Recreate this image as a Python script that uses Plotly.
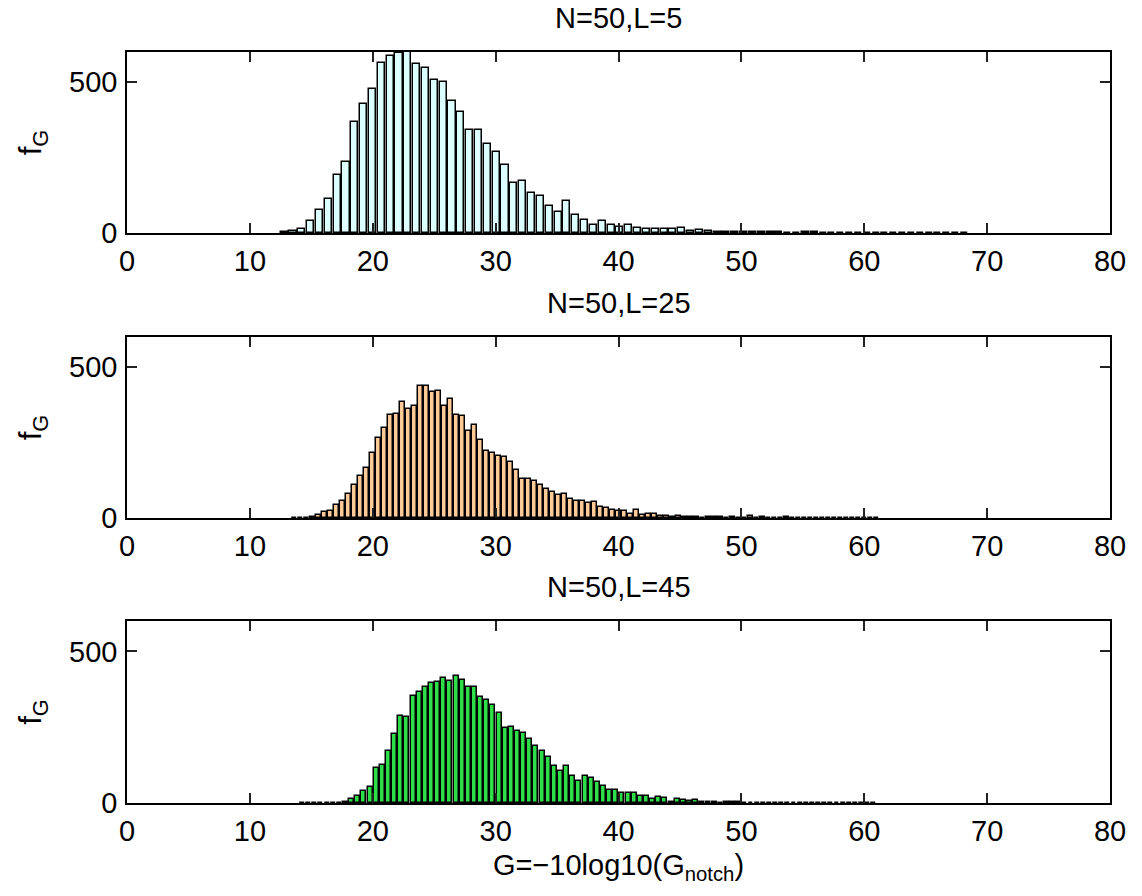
import plotly.graph_objects as go

# Histogram data for G = -10log10(G_notch), N = 50, three values of L.
# Each run: first bin centre, bin width, and counts per bin.
L5_first, L5_width = 12.79, 0.719
L5_counts = [3, 8, 14, 40, 75, 113, 193, 235, 368, 428,
             478, 563, 587, 596, 640, 561, 548, 508, 500, 439,
             401, 341, 341, 294, 267, 226, 166, 173, 131, 122,
             91, 71, 105, 60, 44, 26, 39, 26, 20, 28,
             15, 14, 12, 12, 12, 15, 7, 11, 7, 4,
             3, 2, 2, 3, 2, 2, 2, 1, 1, 3,
             2, 1, 1, 1, 1, 0, 0, 1, 0, 0,
             0, 0, 0, 0, 0, 0, 0, 1]

L25_first, L25_width = 13.64, 0.488
L25_counts = [1, 1, 1, 4, 9, 20, 24, 44, 55, 79,
              108, 138, 166, 215, 265, 300, 343, 345, 386, 362,
              370, 436, 436, 417, 422, 370, 395, 343, 339, 287,
              309, 260, 223, 214, 204, 201, 185, 158, 130, 130,
              121, 108, 95, 85, 76, 79, 64, 56, 57, 49,
              52, 35, 33, 25, 22, 24, 12, 25, 9, 13,
              13, 5, 5, 2, 8, 4, 4, 2, 1, 3,
              4, 2, 1, 3, 1, 1, 5, 1, 2, 1,
              1, 0, 2, 1, 1, 0, 1, 1, 0, 1,
              1, 0, 1, 0, 1, 1, 0, 1]

L45_first, L45_width = 14.28, 0.50
L45_counts = [1, 1, 0, 1, 1, 1, 1, 4, 13, 22,
              40, 54, 116, 125, 173, 228, 288, 284, 352, 365,
              383, 394, 398, 411, 402, 420, 405, 381, 382, 349,
              338, 322, 297, 247, 252, 238, 230, 210, 187, 171,
              153, 123, 106, 123, 89, 73, 88, 81, 68, 55,
              42, 42, 34, 33, 32, 23, 23, 14, 21, 18,
              4, 14, 11, 6, 11, 4, 3, 2, 1, 4,
              2, 2, 1, 1, 1, 1, 0, 1, 0, 1,
              1, 1, 1, 1, 1, 1, 0, 0, 1, 0,
              0, 0, 1, 1]

titles = ["N=50,L=5", "N=50,L=25", "N=50,L=45"]
face_colors = ["#dcffff", "#ffca96", "#2ede48"]
x_ticks = [0, 10, 20, 30, 40, 50, 60, 70, 80]
y_ticks = [0, 500]

FONT = "Liberation Sans, Arial, Helvetica, sans-serif"
FS = 29

runs = [(L5_first, L5_width, L5_counts),
        (L25_first, L25_width, L25_counts),
        (L45_first, L45_width, L45_counts)]

# vertical placement of the three panels (paper fractions)
domains = [[0.7590, 1.0], [0.3795, 0.6205], [0.0, 0.2423]]

fig = go.Figure()
for k, (first, width, counts) in enumerate(runs):
    centres = [first + width * i for i in range(len(counts))]
    sfx = "" if k == 0 else str(k + 1)
    fig.add_trace(go.Bar(
        x=centres, y=counts, width=0.8 * width,
        marker=dict(color=face_colors[k], line=dict(color="black", width=1.5)),
        xaxis="x" + sfx, yaxis="y" + sfx,
        cliponaxis=(k != 0),
        showlegend=False, hoverinfo="x+y",
    ))

axis_common = dict(
    showline=True, linecolor="black", linewidth=1.5, mirror="ticks",
    ticks="inside", ticklen=10, tickwidth=1.5, tickcolor="#222222",
    showgrid=False, zeroline=False,
    tickfont=dict(family=FONT, size=FS, color="black"),
)

layout = dict(
    width=1142, height=896,
    margin=dict(l=127, r=32, t=52, b=93),
    paper_bgcolor="white", plot_bgcolor="white",
    bargap=0, font=dict(family=FONT, size=FS, color="black"),
    annotations=[],
)

for k in range(3):
    sfx = "" if k == 0 else str(k + 1)
    xa = dict(axis_common, range=[0, 80], tickvals=x_ticks,
              ticklabelstandoff=1, anchor="y" + sfx)
    ya = dict(axis_common, range=[0, 600], tickvals=y_ticks,
              domain=domains[k], anchor="x" + sfx, ticklabelstandoff=2,
              title=dict(text="f<sub>G</sub>", standoff=18,
                         font=dict(family=FONT, size=FS + 2, color="black")))
    if k == 2:
        xa["title"] = dict(text="G=−10log10(G<sub>notch</sub>)", standoff=9,
                           font=dict(family=FONT, size=FS, color="black"))
    layout["xaxis" + sfx] = xa
    layout["yaxis" + sfx] = ya
    layout["annotations"].append(dict(
        text=titles[k], xref="paper", yref="paper",
        x=0.5, y=domains[k][1], xanchor="center", yanchor="bottom",
        yshift=16, showarrow=False,
        font=dict(family=FONT, size=FS, color="black"),
    ))

fig.update_layout(**layout)
fig.write_html("out.html")
